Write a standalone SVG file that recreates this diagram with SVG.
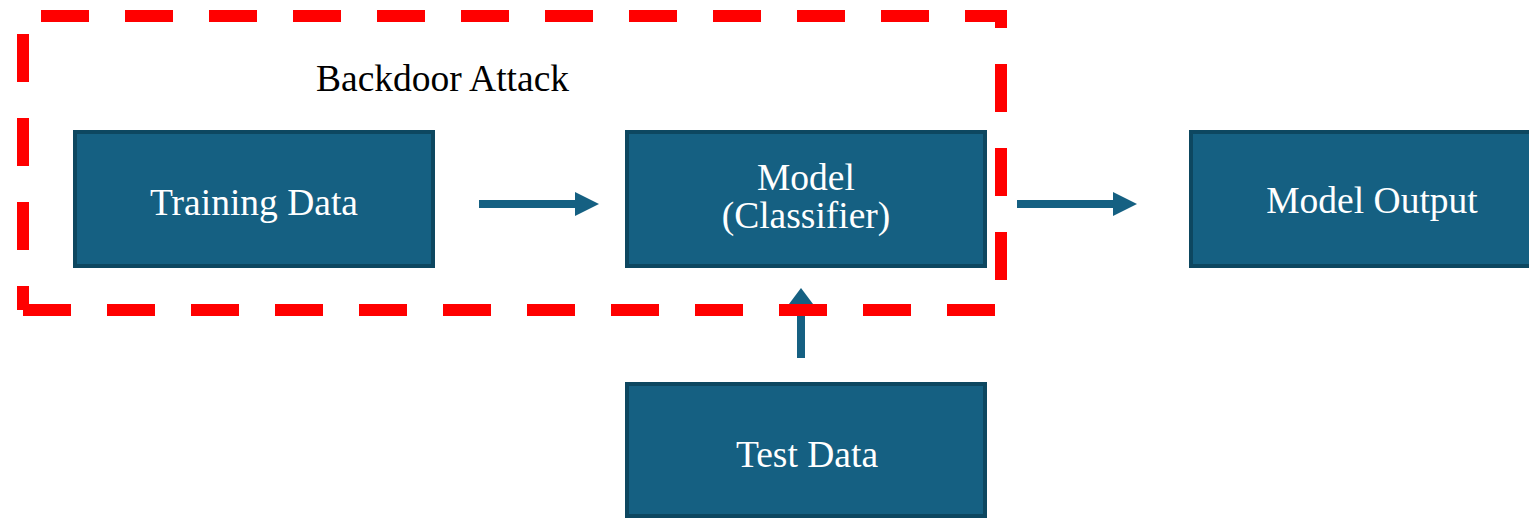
<svg xmlns="http://www.w3.org/2000/svg" width="1529" height="518" viewBox="0 0 1529 518">
  <style>
    .box { fill: #156082; stroke: #0d4760; stroke-width: 4; }
    .label { font-family: "Liberation Serif", "Times New Roman", serif; font-size: 37.5px; fill: #ffffff; text-anchor: middle; }
    .title { font-family: "Liberation Serif", "Times New Roman", serif; font-size: 37.5px; fill: #000000; }
    .shaft { stroke: #156082; stroke-width: 8; fill: none; }
    .head { fill: #156082; }
    .dash { stroke: #ff0000; stroke-width: 12; fill: none; stroke-dasharray: 48 36; stroke-linecap: butt; }
  </style>
  <rect width="1529" height="518" fill="#ffffff"/>

  <g id="training-data">
    <rect class="box" x="75" y="132" width="358" height="134"/>
    <text class="label" x="254" y="215">Training Data</text>
  </g>

  <g id="model">
    <rect class="box" x="627" y="132" width="358" height="134"/>
    <text class="label" x="806" y="190">Model</text>
    <text class="label" x="806" y="228">(Classifier)</text>
  </g>

  <g id="model-output">
    <rect class="box" x="1191" y="132" width="358" height="134"/>
    <text class="label" x="1372" y="213">Model Output</text>
  </g>

  <g id="test-data">
    <rect class="box" x="627" y="384" width="358" height="132"/>
    <text class="label" x="807" y="467">Test Data</text>
  </g>

  <g id="connectors">
    <line class="shaft" x1="479" y1="204" x2="577" y2="204"/>
    <polygon class="head" points="575,192 599,204 575,216"/>
    <line class="shaft" x1="1017" y1="204" x2="1115" y2="204"/>
    <polygon class="head" points="1113,192 1137,204 1113,216"/>
    <line class="shaft" x1="801" y1="358" x2="801" y2="302"/>
    <polygon class="head" points="789,304 801,288 813,304"/>
  </g>

  <g id="backdoor-attack">
    <line class="dash" x1="41" y1="16" x2="1007" y2="16"/>
    <line class="dash" x1="23" y1="34" x2="23" y2="310"/>
    <line class="dash" x1="23" y1="310" x2="995" y2="310"/>
    <line class="dash" x1="1001" y1="10" x2="1001" y2="280" stroke-dashoffset="30"/>
    <text class="title" x="316" y="91">Backdoor Attack</text>
  </g>
</svg>
